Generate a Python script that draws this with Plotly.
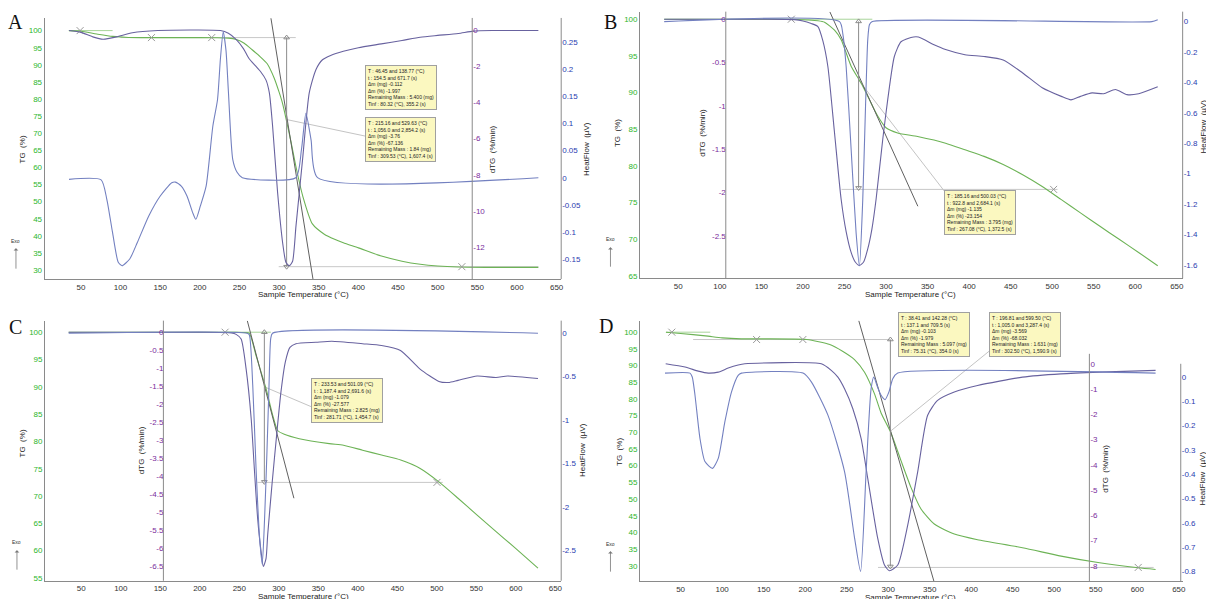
import plotly.graph_objects as go

W, H = 1206, 599

# ---------------- shared ticks ----------------
X_TICKS = [50, 100, 150, 200, 250, 300, 350, 400, 450, 500, 550, 600, 650]

# ---------------- Panel A ----------------
A_TG_X = [35, 50, 70, 90, 110, 140, 180, 220, 236, 246, 256, 266, 276, 285, 294, 300, 304, 309, 315, 321, 330, 342, 357, 370, 381, 400, 429, 455, 478, 500, 526, 560, 600, 627]
A_TG_Y = [100, 99.8, 99.0, 98.3, 98.0, 97.95, 97.95, 97.9, 97.8, 97.4, 96.3, 94.4, 92.4, 90.3, 86.0, 82.0, 79.0, 74.0, 67.5, 60.5, 51.5, 43.5, 40.5, 39.0, 38.0, 36.5, 34.1, 32.6, 31.7, 31.2, 30.9, 30.8, 30.8, 30.8]
A_DTG_X = [35, 50, 65, 78, 95, 115, 147, 226, 236, 246, 255, 262, 270, 277, 283.5, 287.7, 291.8, 298.1, 304.4, 308.7, 313, 317, 321.3, 329.6, 338, 346.4, 354.7, 365, 381, 400, 429, 455, 478, 500, 526, 545, 570, 627]
A_DTG_Y = [0, -0.1, -0.35, -0.48, -0.35, -0.12, 0, 0, -0.15, -0.5, -1.0, -1.55, -1.95, -2.3, -2.75, -3.46, -5.31, -8.99, -11.76, -12.87, -13.05, -12.8, -10.84, -7.15, -3.46, -2.17, -1.62, -1.38, -1.15, -0.95, -0.74, -0.55, -0.37, -0.27, -0.16, -0.03, 0, 0]
A_HF_X = [35, 75.5, 82.7, 89.9, 97.1, 101.9, 111.6, 121.2, 135.6, 150.1, 164.6, 169.3, 176.6, 183.8, 191, 195, 200.7, 208, 216.4, 222.3, 226, 229.5, 233, 236, 241.5, 247, 253.6, 321, 328.2, 333.8, 340.3, 348.5, 627]
A_HF_Y = [-0.003, -0.004, -0.0398, -0.1011, -0.1562, -0.1624, -0.15, -0.1195, -0.0705, -0.0337, -0.0093, -0.0081, -0.0154, -0.0337, -0.0644, -0.0767, -0.0521, -0.015, 0.095, 0.1439, 0.22, 0.2695, 0.235, 0.16, 0.034, 0.01, 0.0, 0.0, 0.052, 0.119, 0.07, 0.0, 0.0]
A_TG_TICKS = [30, 35, 40, 45, 50, 55, 60, 65, 70, 75, 80, 85, 90, 95, 100]
A_DTG_TICKS = [0, -2, -4, -6, -8, -10, -12]
A_HF_TICKS = [0.25, 0.2, 0.15, 0.1, 0.05, 0, -0.05, -0.1, -0.15]
A_TANGENT = ([289.7, 342.7], [103.6, 27.4])
A_SMALL_TAN = ([34.5, 90], [100, 100])
A_LEADER = ([309.5, 410], [74.0, 69.1])
A_ARROW = ([309.5, 309.5], [97.96, 31.0])
A_HLINES = [([100, 321], [97.96, 97.96]), ([299.5, 627], [31.0, 31.0])]
A_CROSS = ([49, 139, 215, 530.5], [100, 97.96, 97.96, 31.0])
A_BOXES = [
    ["T : 46.45 and 138.77 (°C)", "t : 154.5 and 671.7 (s)", "Δm (mg) -0.112", "Δm (%) -1.997",
     "Remaining Mass : 5.400 (mg)", "Tinf : 80.32 (°C), 355.2 (s)"],
    ["T : 215.16 and 529.63 (°C)", "t : 1,056.0 and 2,854.2 (s)", "Δm (mg) -3.76", "Δm (%) -67.136",
     "Remaining Mass : 1.84 (mg)", "Tinf : 309.53 (°C), 1,607.4 (s)"],
]

# ---------------- Panel B ----------------
B_TG_X = [33, 120, 186, 205, 218, 226, 238, 246, 258, 270, 278, 290, 300, 314, 338, 371.7, 395, 418, 441, 464.5, 488, 511, 534, 557, 580.6, 604, 627]
B_TG_Y = [100, 100, 100, 99.9, 99.8, 99.6, 98.5, 97.2, 93.6, 91.3, 89.5, 86.8, 85.2, 84.5, 84.0, 83.1, 82.2, 81.3, 80.2, 78.8, 77.2, 75.4, 73.6, 71.8, 70.0, 68.2, 66.4]
B_DTG_X = [33, 150, 190, 200, 210, 218, 224, 230, 238, 246, 252, 258, 263, 268, 273, 278, 283, 288, 296, 302, 310, 318, 330, 339, 357.8, 371.7, 395, 418, 441, 464.5, 488, 511, 522.6, 534, 548, 562, 576, 590, 604, 627]
B_DTG_Y = [0, 0, -0.005, -0.02, -0.05, -0.085, -0.25, -0.545, -1.31, -2.08, -2.45, -2.69, -2.8, -2.84, -2.8, -2.65, -2.42, -2.08, -1.39, -0.93, -0.43, -0.26, -0.21, -0.205, -0.295, -0.35, -0.41, -0.43, -0.47, -0.62, -0.79, -0.89, -0.93, -0.89, -0.85, -0.86, -0.81, -0.87, -0.86, -0.78]
B_HF_X = [33, 244, 248, 252, 258, 264, 268, 272, 275, 278, 280, 283, 620, 627]
B_HF_Y = [0, 0, -0.08, -0.295, -0.84, -1.39, -1.607, -1.17, -0.62, -0.12, -0.02, 0, 0, 0.012]
B_TG_TICKS = [65, 70, 75, 80, 85, 90, 95, 100]
B_DTG_TICKS = [0, -0.5, -1, -1.5, -2, -2.5]
B_HF_TICKS = [0, -0.2, -0.4, -0.6, -0.8, -1, -1.2, -1.4, -1.6]
B_TANGENT = ([232.4, 338.3], [101.0, 74.5])
B_SMALL_TAN = ([186, 283.5], [100, 100])
B_LEADER = ([267, 372], [91.7, 76.3])
B_ARROW = ([267, 267], [99.7, 77.0])
B_HLINES = [([246.4, 506.4], [76.8, 76.8])]
B_CROSS = ([186, 501.7], [100, 76.8])
B_BOXES = [
    ["T : 185.16 and 500.03 (°C)", "t : 922.8 and 2,684.1 (s)", "Δm (mg) -1.135", "Δm (%) -23.154",
     "Remaining Mass : 3.795 (mg)", "Tinf : 267.08 (°C), 1,372.5 (s)"],
]

# ---------------- Panel C ----------------
C_TG_X = [34, 200, 246, 256, 262.7, 271.2, 283.8, 292.2, 298.5, 306.9, 325.9, 363.8, 381.9, 406, 430, 454.3, 478.4, 502.6, 526.8, 551, 575, 599, 628]
C_TG_Y = [100, 100, 100, 99.95, 99.8, 95.7, 89.7, 84.8, 82.0, 81.3, 80.5, 79.6, 79.3, 78.4, 77.5, 76.6, 75.1, 72.6, 69.6, 66.5, 63.5, 60.5, 56.8]
C_DTG_X = [34, 200, 240, 246, 252.3, 258.6, 265, 269, 273.2, 277.5, 280.4, 283.8, 285.9, 291.3, 297.2, 302.7, 308.2, 314.1, 321.7, 347, 367, 406, 430, 454, 478.4, 502.6, 514.7, 526.8, 551, 575, 589.6, 628]
C_DTG_Y = [0, 0, -0.02, -0.06, -0.19, -1.02, -2.4, -3.79, -5.18, -6.1, -6.52, -6.3, -5.64, -4.25, -2.87, -1.66, -0.83, -0.42, -0.32, -0.28, -0.25, -0.32, -0.37, -0.51, -1.02, -1.37, -1.40, -1.34, -1.22, -1.26, -1.22, -1.29]
C_HF_X = [34, 260, 262.7, 267, 271.2, 275.4, 279, 282, 285, 287.6, 289.7, 292, 628]
C_HF_Y = [0, 0, -0.02, -0.6, -1.56, -2.32, -2.66, -2.13, -1.36, -0.6, -0.065, 0, 0]
C_TG_TICKS = [55, 60, 65, 70, 75, 80, 85, 90, 95, 100]
C_DTG_TICKS = [0, -0.5, -1, -1.5, -2, -2.5, -3, -3.5, -4, -4.5, -5, -5.5, -6, -6.5]
C_HF_TICKS = [0, -0.5, -1, -1.5, -2, -2.5]
C_TANGENT = ([260.1, 319.1], [102.1, 69.6])
C_SMALL_TAN = ([232, 290], [100, 100])
C_LEADER = ([281.7, 342], [90.0, 86.3])
C_ARROW = ([281.7, 281.7], [100, 72.6])
C_HLINES = [([273, 507.5], [72.5, 72.5])]
C_CROSS = ([232, 500.2], [100, 72.5])
C_BOXES = [
    ["T : 233.53 and 501.09 (°C)", "t : 1,187.4 and 2,691.6 (s)", "Δm (mg) -1.079", "Δm (%) -27.577",
     "Remaining Mass : 2.825 (mg)", "Tinf : 281.71 (°C), 1,454.7 (s)"],
]

# ---------------- Panel D ----------------
D_TG_X = [32.3, 50, 80, 100, 122.9, 150, 201.8, 229.6, 245, 259.4, 271.5, 283.5, 291.4, 303, 315.4, 327.4, 339.5, 355.5, 379.6, 407.6, 461.7, 508.2, 554.6, 601, 622]
D_TG_Y = [100, 99.6, 98.9, 98.3, 98.0, 98.0, 97.8, 96.3, 94.3, 91.8, 88.0, 81.5, 75.8, 70.0, 61.5, 53.5, 47.0, 42.5, 39.5, 37.8, 35.4, 32.9, 30.9, 29.4, 28.9]
D_DTG_X = [32, 55.3, 71.2, 83.2, 95.3, 107.3, 119.3, 127.3, 219.4, 231.4, 239.4, 247.4, 257.4, 267.4, 275.4, 287.4, 295.5, 301.5, 311.5, 323.5, 335.5, 347.5, 359.5, 379.6, 407.6, 461.7, 508, 554.6, 622]
D_DTG_Y = [0, -0.13, -0.29, -0.37, -0.33, -0.17, -0.05, 0, 0, -0.26, -0.53, -0.99, -1.78, -2.96, -4.55, -6.92, -7.97, -8.2, -7.97, -6.39, -4.28, -2.04, -1.45, -1.12, -0.86, -0.53, -0.40, -0.33, -0.26]
D_HF_X = [31.2, 61.3, 64, 67.3, 73.3, 79.3, 88.4, 95.3, 103.3, 111.3, 119.3, 123.3, 197.4, 207.4, 227.4, 247.4, 259.5, 266.7, 273.4, 279.4, 282.6, 287, 291.4, 296.2, 301, 305.5, 311.5, 622]
D_HF_Y = [0.016, 0.016, 0.0, -0.075, -0.253, -0.348, -0.376, -0.335, -0.184, -0.061, 0.007, 0.016, 0.016, -0.02, -0.157, -0.389, -0.663, -0.80, -0.389, -0.048, 0.0, -0.04, -0.075, -0.093, -0.06, -0.007, 0.016, 0.016]
D_TG_TICKS = [30, 35, 40, 45, 50, 55, 60, 65, 70, 75, 80, 85, 90, 95, 100]
D_DTG_TICKS = [0, -1, -2, -3, -4, -5, -6, -7, -8]
D_HF_TICKS = [0, -0.1, -0.2, -0.3, -0.4, -0.5, -0.6, -0.7, -0.8]
D_TANGENT = ([264.5, 355], [103.5, 25.4])
D_SMALL_TAN = ([32.4, 85.7], [100, 100])
D_LEADER = ([302.6, 425], [70.3, 95.0])
D_ARROW = ([302.6, 302.6], [97.8, 29.8])
D_HLINES = [([65, 302.6], [97.8, 97.8]), ([287.7, 619.7], [29.5, 29.5])]
D_CROSS = ([39.4, 141.5, 197.2, 601.1], [100, 97.8, 97.8, 29.5])
D_BOXES = [
    ["T : 38.41 and 142.28 (°C)", "t : 137.1 and 709.5 (s)", "Δm (mg) -0.103", "Δm (%) -1.979",
     "Remaining Mass : 5.097 (mg)", "Tinf : 75.31 (°C), 354.0 (s)"],
    ["T : 196.81 and 599.50 (°C)", "t : 1,005.0 and 3,287.4 (s)", "Δm (mg) -3.569", "Δm (%) -68.032",
     "Remaining Mass : 1.631 (mg)", "Tinf : 302.50 (°C), 1,590.9 (s)"],
]

# ---------------- styling / layout geometry (pixels) ----------------
FONT = "Arial, 'Liberation Sans', sans-serif"
C_TG, C_DTG, C_HF = "#6db356", "#68629f", "#7380c0"
C_TG_T, C_DTG_T, C_HF_T = "#2cb52c", "#7a2c9c", "#2a3cb0"
AXC = "#8a8a8a"

PANELS = [
    dict(name="A", L=44.8, R=562.6, T=18.0, B=280.0, xr=[4.33, 655.8], tg=[27.38, 103.7], dtg=[-13.79, 0.70],
         hf=[-0.1871, 0.2949], dtg_px=473.4, dtg_side="right", dtg_top=18.0, hf_px=562.6, hf_top=18.0,
         data=(A_TG_X, A_TG_Y, A_DTG_X, A_DTG_Y, A_HF_X, A_HF_Y), ticks=(A_TG_TICKS, A_DTG_TICKS, A_HF_TICKS),
         tangent=A_TANGENT, small=A_SMALL_TAN, leader=A_LEADER, arrow=A_ARROW, hlines=A_HLINES, cross=A_CROSS,
         boxes=A_BOXES, box_px=[(365.5, 65.0), (365.5, 117.3)], letter=(16, 22), exo=(16, 242, 249, 271),
         tg_title=(23, 150), dtg_title=(494, 150), hf_title=(588, 150), x_title=(304, 295.5)),
    dict(name="B", L=641.7, R=1185.6, T=11.7, B=279.3, xr=[4.02, 657.0], tg=[64.67, 101.03], dtg=[-2.989, 0.087],
         hf=[-1.689, 0.0656], dtg_px=727.6, dtg_side="left", dtg_top=11.7, hf_px=1185.6, hf_top=11.7,
         data=(B_TG_X, B_TG_Y, B_DTG_X, B_DTG_Y, B_HF_X, B_HF_Y), ticks=(B_TG_TICKS, B_DTG_TICKS, B_HF_TICKS),
         tangent=B_TANGENT, small=B_SMALL_TAN, leader=B_LEADER, arrow=B_ARROW, hlines=B_HLINES, cross=B_CROSS,
         boxes=B_BOXES, box_px=[(946.0, 190.7)], letter=(612, 22), exo=(612, 240, 248, 269),
         tg_title=(619, 133), dtg_title=(704, 133), hf_title=(1207, 127), x_title=(913, 295.5)),
    dict(name="C", L=45.2, R=562.6, T=321.7, B=582.7, xr=[4.17, 657.4], tg=[54.49, 102.12], dtg=[-6.916, 0.322],
         hf=[-2.849, 0.1445], dtg_px=163.8, dtg_side="left", dtg_top=321.7, hf_px=562.6, hf_top=321.7,
         data=(C_TG_X, C_TG_Y, C_DTG_X, C_DTG_Y, C_HF_X, C_HF_Y), ticks=(C_TG_TICKS, C_DTG_TICKS, C_HF_TICKS),
         tangent=C_TANGENT, small=C_SMALL_TAN, leader=C_LEADER, arrow=C_ARROW, hlines=C_HLINES, cross=C_CROSS,
         boxes=C_BOXES, box_px=[(311.9, 379.3)], letter=(16, 328), exo=(17, 544, 552, 573),
         tg_title=(23, 445), dtg_title=(142, 452), hf_title=(584, 452), x_title=(304, 598)),
    dict(name="D", L=641.7, R=1185.6, T=321.7, B=583.3, xr=[1.2, 654.6], tg=[25.33, 103.46], dtg=[-8.618, 1.709],
         hf=[-0.841, 0.232], dtg_px=1092.1, dtg_side="right", dtg_top=355.0, hf_px=1183.7, hf_top=365.0,
         data=(D_TG_X, D_TG_Y, D_DTG_X, D_DTG_Y, D_HF_X, D_HF_Y), ticks=(D_TG_TICKS, D_DTG_TICKS, D_HF_TICKS),
         tangent=D_TANGENT, small=D_SMALL_TAN, leader=D_LEADER, arrow=D_ARROW, hlines=D_HLINES, cross=D_CROSS,
         boxes=D_BOXES, box_px=[(900.3, 313.3), (991.6, 312.7)], letter=(608, 327), exo=(612, 546, 553, 575),
         tg_title=(621, 453), dtg_title=(1108, 470), hf_title=(1205, 480), x_title=(913, 599)),
]


def px(x):
    return x / W


def py(y):
    return 1 - y / H


def lbl(v):
    return "%g" % v


fig = go.Figure()
layout = dict(width=W, height=H, margin=dict(l=0, r=0, t=0, b=0), paper_bgcolor="white",
              plot_bgcolor="rgba(0,0,0,0)", showlegend=False, font=dict(family=FONT, size=8, color="#222"))
shapes, annos = [], []


def text_anno(x, y, text, size, color="#222", angle=0, family=FONT, xa="center", ya="middle"):
    return dict(xref="paper", yref="paper", x=px(x), y=py(y), text=text, textangle=angle, showarrow=False,
                xanchor=xa, yanchor=ya, font=dict(size=size, color=color, family=family))


for k, p in enumerate(PANELS):
    xn = "xaxis" if k == 0 else "xaxis%d" % (k + 1)
    xid = "x" if k == 0 else "x%d" % (k + 1)
    b = 3 * k + 1
    yid = ["y" if b == 1 else "y%d" % b, "y%d" % (b + 1), "y%d" % (b + 2)]
    yn = ["yaxis" if b == 1 else "yaxis%d" % b, "yaxis%d" % (b + 1), "yaxis%d" % (b + 2)]
    tgt, dtgt, hft = p["ticks"]
    layout[xn] = dict(domain=[px(p["L"]), px(p["R"])], anchor=yid[0], range=p["xr"], tickvals=X_TICKS,
                      ticktext=[lbl(v) for v in X_TICKS], showline=True, linecolor=AXC, linewidth=1,
                      showgrid=False, zeroline=False, ticks="", tickfont=dict(size=8, color="#333"))
    layout[yn[0]] = dict(domain=[py(p["B"]), py(p["T"])], anchor=xid, range=p["tg"], tickvals=tgt,
                         ticktext=[lbl(v) for v in tgt], showline=True, linecolor=AXC, linewidth=1,
                         showgrid=False, zeroline=False, ticks="", tickfont=dict(size=8, color=C_TG_T))
    layout[yn[1]] = dict(overlaying=yid[0], anchor="free", position=px(p["dtg_px"]), side=p["dtg_side"],
                         range=p["dtg"], tickvals=dtgt, ticktext=[lbl(v) for v in dtgt], showline=False,
                         showgrid=False, zeroline=False, ticks="", tickfont=dict(size=8, color=C_DTG_T))
    layout[yn[2]] = dict(overlaying=yid[0], anchor="free", position=px(p["hf_px"]), side="right",
                         range=p["hf"], tickvals=hft, ticktext=[lbl(v) for v in hft], showline=False,
                         showgrid=False, zeroline=False, ticks="", tickfont=dict(size=8, color=C_HF_T))

    # axis lines for dTG and HeatFlow
    shapes.append(dict(type="line", xref="paper", yref="paper", x0=px(p["dtg_px"]), x1=px(p["dtg_px"]),
                       y0=py(p["B"]), y1=py(p["dtg_top"]), line=dict(color=AXC, width=1)))
    shapes.append(dict(type="line", xref="paper", yref="paper", x0=px(p["hf_px"]), x1=px(p["hf_px"]),
                       y0=py(p["B"]), y1=py(p["hf_top"]), line=dict(color=AXC, width=1)))

    tgx, tgy, dx, dy, hx, hy = p["data"]

    # annotation helper lines (drawn on TG axis)
    for (lx, ly) in p["hlines"]:
        fig.add_trace(go.Scatter(x=lx, y=ly, xaxis=xid, yaxis=yid[0], mode="lines",
                                 line=dict(color="#c8c8c8", width=1), hoverinfo="skip"))
    fig.add_trace(go.Scatter(x=p["small"][0], y=p["small"][1], xaxis=xid, yaxis=yid[0], mode="lines",
                             line=dict(color="#a8d49a", width=1), hoverinfo="skip"))
    fig.add_trace(go.Scatter(x=p["leader"][0], y=p["leader"][1], xaxis=xid, yaxis=yid[0], mode="lines",
                             line=dict(color="#c4c4c4", width=1), hoverinfo="skip"))

    # curves
    fig.add_trace(go.Scatter(x=tgx, y=tgy, xaxis=xid, yaxis=yid[0], mode="lines",
                             line=dict(color=C_TG, width=1.1, shape="spline", smoothing=0.6), name="TG"))
    fig.add_trace(go.Scatter(x=dx, y=dy, xaxis=xid, yaxis=yid[1], mode="lines",
                             line=dict(color=C_DTG, width=1.1, shape="spline", smoothing=0.6), name="dTG"))
    fig.add_trace(go.Scatter(x=hx, y=hy, xaxis=xid, yaxis=yid[2], mode="lines",
                             line=dict(color=C_HF, width=1.1, shape="spline", smoothing=0.6), name="HeatFlow"))

    # tangent, arrow, crosses
    fig.add_trace(go.Scatter(x=p["tangent"][0], y=p["tangent"][1], xaxis=xid, yaxis=yid[0], mode="lines",
                             line=dict(color="#606060", width=1), hoverinfo="skip"))
    fig.add_trace(go.Scatter(x=p["arrow"][0], y=p["arrow"][1], xaxis=xid, yaxis=yid[0], mode="lines+markers",
                             line=dict(color="#8c8c8c", width=1),
                             marker=dict(symbol=["triangle-up-open", "triangle-down-open"], size=5,
                                         color="#8c8c8c", line=dict(width=1)), hoverinfo="skip"))
    fig.add_trace(go.Scatter(x=p["cross"][0], y=p["cross"][1], xaxis=xid, yaxis=yid[0], mode="markers",
                             marker=dict(symbol="x-thin-open", size=7, color="#9a9a9a",
                                         line=dict(width=1, color="#9a9a9a")), hoverinfo="skip"))

    # result boxes
    for lines, (bx, by) in zip(p["boxes"], p["box_px"]):
        annos.append(dict(xref="paper", yref="paper", x=px(bx), y=py(by), xanchor="left", yanchor="top",
                          text="<br>".join(lines), showarrow=False, align="left", bgcolor="#fbf8c0",
                          bordercolor="#a0a0a0", borderwidth=1, borderpad=2,
                          font=dict(size=5, color="#222", family=FONT)))

    # titles
    annos.append(text_anno(*p["tg_title"], "TG  (%)", 8, angle=-90))
    annos.append(text_anno(*p["dtg_title"], "dTG  (%/min)", 8, angle=-90))
    annos.append(text_anno(*p["hf_title"], "HeatFlow  (µV)", 8, angle=-90))
    annos.append(text_anno(*p["x_title"], "Sample Temperature (°C)", 8))
    annos.append(text_anno(*p["letter"], p["name"], 20, color="#111",
                           family="'Liberation Serif', 'DejaVu Serif', serif"))
    ex, ey, ay0, ay1 = p["exo"]
    annos.append(text_anno(ex, ey, "Exo", 5, color="#333"))
    annos.append(dict(xref="paper", yref="paper", x=px(ex), y=py(ay0), ax=0, ay=ay1 - ay0, axref="pixel",
                      ayref="pixel", text="", showarrow=True, arrowhead=1, arrowsize=1, arrowwidth=0.8,
                      arrowcolor="#777"))

layout["shapes"] = shapes
layout["annotations"] = annos
fig.update_layout(**layout)

fig.write_html("out.html", config={"displayModeBar": False},
               post_script="document.body.style.margin='0px';")
